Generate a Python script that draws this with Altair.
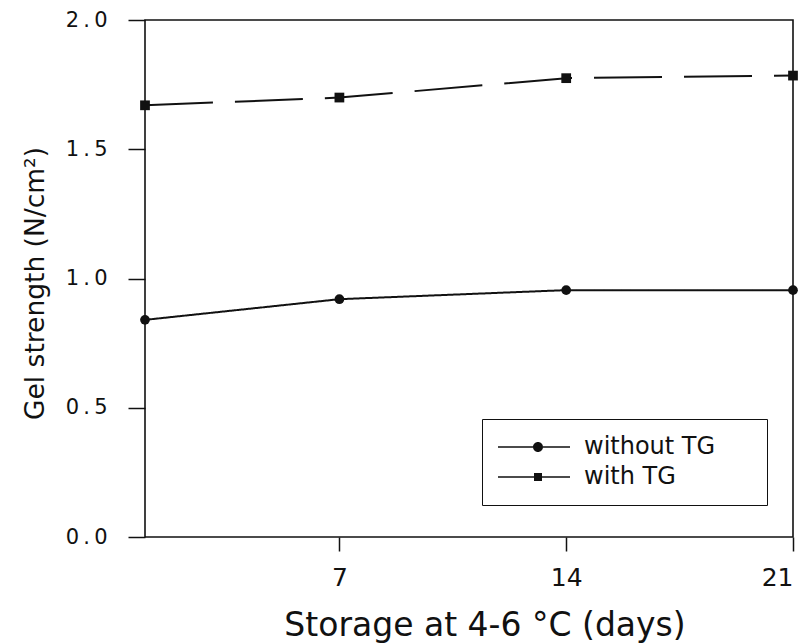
import altair as alt
import pandas as pd

# ---- data ----
days = [1, 7, 14, 21]
without_tg = [0.84, 0.92, 0.955, 0.955]
with_tg = [1.67, 1.70, 1.775, 1.785]
series_names = ["without TG", "with TG"]
x_tick_values = [7, 14, 21]
y_tick_values = [0.0, 0.5, 1.0, 1.5, 2.0]

rows = []
for d, v in zip(days, without_tg):
    rows.append({"day": d, "value": v, "series": series_names[0]})
for d, v in zip(days, with_tg):
    rows.append({"day": d, "value": v, "series": series_names[1]})
df = pd.DataFrame(rows)

FONT = "DejaVu Sans"
INK = "#111111"

x_enc = alt.X(
    "day:Q",
    scale=alt.Scale(domain=[1, 21], nice=False, zero=False),
    axis=alt.Axis(
        values=x_tick_values, format="d", title="Storage at 4-6 °C (days)",
        tickSize=14, labelPadding=14, labelFontSize=25, titleFontSize=33,
        titleX=339.5, titleY=98, titleBaseline="alphabetic", titleAlign="center",
    ),
)
y_enc = alt.Y(
    "value:Q",
    scale=alt.Scale(domain=[0, 2], nice=False),
    axis=alt.Axis(
        values=y_tick_values, title="Gel strength (N/cm²)",
        labelExpr="replace(format(datum.value, '.1f'), '.', '\u2009.\u2009')",
        tickSize=17, labelPadding=21, labelFontSize=21, titleFontSize=26.5,
        titleX=-102, titleY=263, titleBaseline="alphabetic", titleAlign="center",
        titleAngle=270,
    ),
)

lines = alt.Chart(df).mark_line(color=INK, strokeWidth=2).encode(
    x=x_enc,
    y=y_enc,
    strokeDash=alt.StrokeDash(
        "series:N",
        scale=alt.Scale(domain=series_names, range=[[1, 0], [68, 22]]),
        legend=None,
    ),
)

points = alt.Chart(df).mark_point(filled=True, color=INK, opacity=1, size=95).encode(
    x=x_enc,
    y=y_enc,
    shape=alt.Shape(
        "series:N",
        scale=alt.Scale(domain=series_names, range=["circle", "square"]),
        legend=None,
    ),
)

# legend keys: a line with the marker in its middle
circle_key = ("M-2.4,-0.15H4.6V0.15H-2.4Z "
              "M6.6,0A1,1 0 1,1 4.6,0A1,1 0 1,1 6.6,0Z "
              "M6.6,-0.15H12V0.15H6.6Z")
square_key = ("M-2.4,-0.15H4.8V0.15H-2.4Z "
              "M4.8,-0.8H6.4V0.8H4.8Z "
              "M6.4,-0.15H12V0.15H6.4Z")

key = alt.Chart(df).transform_filter("false").mark_point(
    filled=True, color=INK, opacity=1, size=100
).encode(
    x=x_enc,
    y=y_enc,
    shape=alt.Shape(
        "series:N",
        scale=alt.Scale(domain=series_names, range=[circle_key, square_key]),
        legend=alt.Legend(
            title=None, orient="none", legendX=337, legendY=399,
            padding=16, strokeColor=INK, fillColor="white", cornerRadius=0,
            labelFont=FONT, labelFontSize=24, labelColor=INK, labelLimit=400,
            labelExpr="datum.label + '\u2800\u2800'",
            symbolSize=100, symbolFillColor=INK, symbolStrokeWidth=0,
            symbolOpacity=1, labelOffset=62, rowPadding=6,
        ),
    ),
)

chart = alt.layer(lines, points, key).resolve_scale(
    shape="independent"
).properties(
    width=648,
    height=517,
    padding={"left": 145, "top": 20, "right": 14, "bottom": 106},
    autosize=alt.AutoSizeParams(type="none"),
    background="white",
).configure_view(
    stroke=INK, strokeWidth=1.6
).configure_axis(
    grid=False, domain=False,
    tickColor=INK, tickWidth=1.5,
    labelFont=FONT, titleFont=FONT, labelColor=INK, titleColor=INK,
    titleFontWeight="normal",
)

chart.save("out.html", embed_options={"renderer": "svg", "actions": False})
